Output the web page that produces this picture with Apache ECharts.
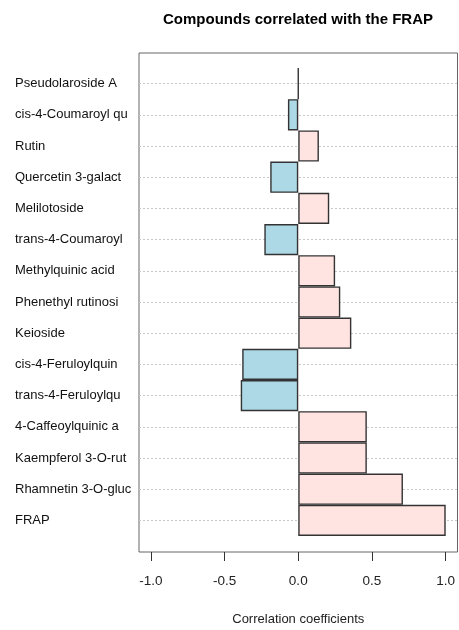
<!DOCTYPE html>
<html>
<head>
<meta charset="utf-8">
<script src="https://cdn.jsdelivr.net/npm/echarts@6/dist/echarts.min.js"></script>
<style>
  html, body { margin: 0; padding: 0; background: #fff; }
  #chart { width: 459px; height: 630px; }
</style>
</head>
<body>
<div id="chart"></div>
<script>
// Compounds, top to bottom
const compounds = [
  'Pseudolaroside A', 'cis-4-Coumaroyl qu', 'Rutin', 'Quercetin 3-galact',
  'Melilotoside', 'trans-4-Coumaroyl', 'Methylquinic acid', 'Phenethyl rutinosi',
  'Keioside', 'cis-4-Feruloylquin', 'trans-4-Feruloylqu', '4-Caffeoylquinic a',
  'Kaempferol 3-O-rut', 'Rhamnetin 3-O-gluc', 'FRAP'
];
// Correlation coefficient of each compound with FRAP
const correlations = [
  0.0, -0.07, 0.14, -0.19,
  0.21, -0.23, 0.25, 0.285,
  0.36, -0.38, -0.39, 0.465,
  0.465, 0.71, 1.0
];
const xTicks = [-1, -0.5, 0, 0.5, 1];

const FONT = 'Liberation Sans, Arial, sans-serif';
const NEG = '#ADD8E6';
const POS = '#FFE4E1';

const chart = echarts.init(document.getElementById('chart'), null, { renderer: 'canvas' });

chart.setOption({
  animation: false,
  backgroundColor: '#fff',
  title: {
    text: 'Compounds correlated with the FRAP',
    left: 293, top: 7, textAlign: 'center',
    textStyle: { fontFamily: FONT, fontSize: 15, fontWeight: 'bold', color: '#000' }
  },
  grid: [
    // plot frame with the value axis
    { left: 139, right: 1.5, top: 53, bottom: 78, outerBoundsMode: 'none', containLabel: false,
      show: true, borderColor: '#666', borderWidth: 1, backgroundColor: 'transparent' },
    // bar region
    { left: 139, right: 1.5, top: 68, bottom: 94, outerBoundsMode: 'none', containLabel: false }
  ],
  xAxis: [
    {
      gridIndex: 0, type: 'value', min: -1.08, max: 1.08,
      axisLine: { show: false },
      splitLine: { show: false },
      axisTick: { show: true, length: 9, customValues: xTicks, lineStyle: { color: '#333' } },
      axisLabel: {
        customValues: xTicks, margin: 22,
        formatter: v => v.toFixed(1),
        fontFamily: FONT, fontSize: 13.5, color: '#222'
      },
      name: 'Correlation coefficients', nameLocation: 'middle', nameGap: 61,
      nameTextStyle: { fontFamily: FONT, fontSize: 13, color: '#222' }
    },
    {
      gridIndex: 1, type: 'value', min: -1.08, max: 1.08, show: false,
      splitLine: { show: false }
    }
  ],
  yAxis: [
    { gridIndex: 0, type: 'value', show: false, splitLine: { show: false } },
    {
      gridIndex: 1, type: 'category', data: compounds, inverse: true,
      axisLine: { show: false }, axisTick: { show: false }, splitLine: { show: false },
      axisLabel: {
        align: 'left', margin: 124, interval: 0,
        fontFamily: FONT, fontSize: 13, color: '#111'
      }
    }
  ],
  series: [
    {
      // dotted guide lines through each category
      type: 'line', xAxisIndex: 1, yAxisIndex: 1, data: [], z: 1,
      markLine: {
        silent: true, symbol: 'none', z: 1,
        label: { show: false },
        lineStyle: { type: [2, 2], color: '#c8c8c8', width: 1 },
        data: compounds.map(c => ({ yAxis: c }))
      }
    },
    {
      type: 'bar', xAxisIndex: 1, yAxisIndex: 1, z: 3,
      barWidth: '100%',
      data: correlations.map(v => ({
        value: v,
        itemStyle: { color: v < 0 ? NEG : POS }
      })),
      itemStyle: { borderColor: '#333', borderWidth: 1.4 }
    }
  ]
});
</script>
</body>
</html>
